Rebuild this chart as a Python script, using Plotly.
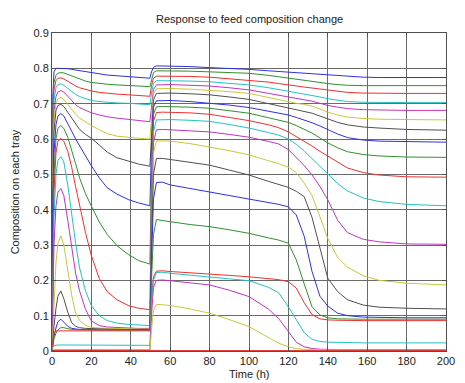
import plotly.graph_objects as go

time_h = [0, 0.4, 1, 2, 3, 4.5, 6, 8, 10, 12, 14, 17, 20, 24, 28, 33, 39, 44, 49.7,
          50.5, 51.5, 53,
          56, 60, 70, 80, 90, 100, 110, 115, 120, 124, 128, 132, 136, 140, 145, 150, 158, 166, 180, 200]

tray01 = [0.0, 0.72, 0.79, 0.80, 0.80, 0.80, 0.80, 0.799, 0.797, 0.795, 0.793, 0.79, 0.787, 0.784, 0.781, 0.779, 0.777, 0.775, 0.772,
          0.79, 0.803, 0.807,
          0.807, 0.807, 0.805, 0.802, 0.80, 0.797, 0.793, 0.791, 0.79, 0.789, 0.787, 0.785, 0.783, 0.781, 0.779, 0.777, 0.775, 0.774, 0.774, 0.774]
tray02 = [0.0, 0.68, 0.76, 0.78, 0.786, 0.788, 0.787, 0.783, 0.778, 0.773, 0.769, 0.764, 0.76, 0.757, 0.755, 0.753, 0.752, 0.75, 0.748,
          0.77, 0.788, 0.793,
          0.793, 0.793, 0.792, 0.79, 0.788, 0.786, 0.780, 0.776, 0.773, 0.770, 0.766, 0.762, 0.760, 0.757, 0.754, 0.752, 0.751, 0.751, 0.751, 0.751]
tray03 = [0.0, 0.64, 0.74, 0.765, 0.772, 0.773, 0.77, 0.763, 0.756, 0.75, 0.745, 0.74, 0.736, 0.732, 0.729, 0.727, 0.725, 0.723, 0.721,
          0.75, 0.772, 0.778,
          0.778, 0.778, 0.777, 0.775, 0.771, 0.767, 0.761, 0.757, 0.754, 0.750, 0.747, 0.744, 0.741, 0.738, 0.735, 0.732, 0.730, 0.729, 0.729, 0.729]
tray04 = [0.0, 0.60, 0.71, 0.745, 0.754, 0.756, 0.752, 0.743, 0.733, 0.726, 0.72, 0.714, 0.709, 0.706, 0.704, 0.702, 0.701, 0.699, 0.697,
          0.73, 0.757, 0.765,
          0.765, 0.765, 0.764, 0.762, 0.758, 0.753, 0.745, 0.740, 0.737, 0.733, 0.729, 0.724, 0.719, 0.714, 0.709, 0.706, 0.704, 0.703, 0.703, 0.703]
tray05 = [0.0, 0.55, 0.68, 0.72, 0.733, 0.737, 0.733, 0.72, 0.707, 0.697, 0.689, 0.681, 0.674, 0.668, 0.663, 0.659, 0.655, 0.652, 0.649,
          0.69, 0.74, 0.753,
          0.754, 0.754, 0.752, 0.750, 0.745, 0.739, 0.729, 0.724, 0.720, 0.716, 0.712, 0.707, 0.701, 0.695, 0.690, 0.686, 0.683, 0.682, 0.681, 0.681]
tray06 = [0.0, 0.50, 0.65, 0.70, 0.714, 0.718, 0.712, 0.698, 0.683, 0.67, 0.659, 0.648, 0.638, 0.626, 0.615, 0.608, 0.604, 0.602, 0.60,
          0.66, 0.728, 0.742,
          0.743, 0.743, 0.741, 0.738, 0.734, 0.729, 0.717, 0.710, 0.705, 0.701, 0.698, 0.693, 0.685, 0.676, 0.668, 0.662, 0.658, 0.656, 0.655, 0.654]
tray07 = [0.0, 0.45, 0.62, 0.68, 0.695, 0.698, 0.692, 0.676, 0.658, 0.641, 0.627, 0.613, 0.602, 0.583, 0.563, 0.547, 0.536, 0.529, 0.523,
          0.62, 0.71, 0.729,
          0.730, 0.730, 0.728, 0.725, 0.719, 0.712, 0.700, 0.694, 0.689, 0.684, 0.679, 0.673, 0.665, 0.657, 0.647, 0.640, 0.634, 0.631, 0.627, 0.625]
tray08 = [0.0, 0.38, 0.56, 0.64, 0.665, 0.672, 0.665, 0.645, 0.622, 0.60, 0.58, 0.553, 0.524, 0.49, 0.462, 0.444, 0.428, 0.419, 0.411,
          0.58, 0.69, 0.708,
          0.709, 0.709, 0.706, 0.702, 0.696, 0.689, 0.679, 0.673, 0.668, 0.661, 0.654, 0.646, 0.637, 0.627, 0.614, 0.604, 0.597, 0.594, 0.592, 0.591]
tray09 = [0.0, 0.30, 0.50, 0.60, 0.63, 0.638, 0.63, 0.605, 0.57, 0.53, 0.49, 0.445, 0.41, 0.365, 0.33, 0.298, 0.272, 0.256, 0.246,
          0.50, 0.67, 0.691,
          0.692, 0.692, 0.690, 0.687, 0.681, 0.673, 0.660, 0.654, 0.647, 0.638, 0.628, 0.617, 0.603, 0.589, 0.575, 0.564, 0.556, 0.552, 0.549, 0.548]
tray10 = [0.0, 0.25, 0.45, 0.56, 0.594, 0.602, 0.593, 0.565, 0.52, 0.465, 0.41, 0.335, 0.27, 0.205, 0.168, 0.145, 0.128, 0.121, 0.117,
          0.45, 0.65, 0.675,
          0.676, 0.676, 0.674, 0.670, 0.661, 0.652, 0.640, 0.632, 0.620, 0.607, 0.594, 0.580, 0.565, 0.551, 0.533, 0.518, 0.505, 0.498, 0.493, 0.492]
tray11 = [0.0, 0.20, 0.38, 0.50, 0.54, 0.55, 0.535, 0.47, 0.385, 0.305, 0.235, 0.17, 0.128, 0.10, 0.086, 0.079, 0.075, 0.073, 0.072,
          0.40, 0.62, 0.654,
          0.655, 0.655, 0.653, 0.650, 0.641, 0.631, 0.618, 0.611, 0.600, 0.585, 0.566, 0.545, 0.522, 0.501, 0.474, 0.453, 0.433, 0.423, 0.415, 0.411]
tray12 = [0.0, 0.15, 0.30, 0.41, 0.45, 0.46, 0.44, 0.37, 0.30, 0.22, 0.17, 0.118, 0.085, 0.072, 0.068, 0.066, 0.065, 0.064, 0.064,
          0.36, 0.59, 0.626,
          0.627, 0.626, 0.624, 0.620, 0.613, 0.605, 0.593, 0.586, 0.570, 0.548, 0.525, 0.498, 0.466, 0.428, 0.370, 0.335, 0.316, 0.309, 0.303, 0.302]
tray13 = [0.0, 0.06, 0.15, 0.25, 0.305, 0.326, 0.30, 0.23, 0.158, 0.107, 0.086, 0.072, 0.067, 0.065, 0.064, 0.063, 0.063, 0.062, 0.062,
          0.33, 0.56, 0.595,
          0.595, 0.594, 0.587, 0.578, 0.567, 0.555, 0.539, 0.530, 0.520, 0.505, 0.475, 0.440, 0.380, 0.318, 0.265, 0.237, 0.213, 0.200, 0.192, 0.187]
tray14 = [0.0, 0.03, 0.07, 0.12, 0.155, 0.17, 0.148, 0.11, 0.08, 0.07, 0.066, 0.064, 0.063, 0.062, 0.062, 0.061, 0.061, 0.061, 0.061,
          0.30, 0.50, 0.545,
          0.545, 0.542, 0.534, 0.526, 0.512, 0.498, 0.480, 0.472, 0.463, 0.452, 0.437, 0.378, 0.290, 0.206, 0.168, 0.145, 0.130, 0.124, 0.121, 0.119]
tray15 = [0.0, 0.02, 0.04, 0.065, 0.083, 0.09, 0.082, 0.07, 0.064, 0.062, 0.061, 0.061, 0.06, 0.06, 0.06, 0.06, 0.06, 0.06, 0.06,
          0.25, 0.43, 0.477,
          0.478, 0.470, 0.460, 0.451, 0.441, 0.432, 0.422, 0.415, 0.408, 0.385, 0.325, 0.225, 0.155, 0.127, 0.107, 0.100, 0.096, 0.095, 0.094, 0.094]
tray16 = [0.0, 0.02, 0.035, 0.05, 0.06, 0.066, 0.066, 0.063, 0.061, 0.06, 0.06, 0.06, 0.059, 0.059, 0.059, 0.059, 0.059, 0.059, 0.059,
          0.20, 0.33, 0.372,
          0.370, 0.366, 0.358, 0.352, 0.343, 0.333, 0.320, 0.314, 0.305, 0.258, 0.190, 0.125, 0.102, 0.094, 0.091, 0.090, 0.090, 0.090, 0.090, 0.090]
tray17 = [0.0, 0.03, 0.05, 0.057, 0.057, 0.057, 0.057, 0.057, 0.057, 0.057, 0.057, 0.057, 0.057, 0.057, 0.057, 0.057, 0.057, 0.057, 0.057,
          0.15, 0.21, 0.226,
          0.227, 0.225, 0.222, 0.219, 0.214, 0.210, 0.205, 0.202, 0.196, 0.178, 0.137, 0.103, 0.091, 0.088, 0.087, 0.086, 0.086, 0.086, 0.086, 0.086]
tray18 = [0.0, 0.01, 0.015, 0.017, 0.017, 0.017, 0.017, 0.017, 0.017, 0.017, 0.017, 0.017, 0.017, 0.016, 0.016, 0.016, 0.016, 0.016, 0.016,
          0.14, 0.20, 0.222,
          0.223, 0.220, 0.215, 0.210, 0.205, 0.199, 0.180, 0.165, 0.125, 0.088, 0.052, 0.033, 0.027, 0.025, 0.024, 0.023, 0.023, 0.023, 0.023, 0.023]
tray19 = [0.0, 0.002, 0.003, 0.003, 0.003, 0.003, 0.003, 0.003, 0.003, 0.003, 0.003, 0.003, 0.003, 0.003, 0.003, 0.003, 0.003, 0.003, 0.003,
          0.10, 0.18, 0.20,
          0.201, 0.199, 0.194, 0.187, 0.172, 0.154, 0.118, 0.092, 0.055, 0.025, 0.012, 0.007, 0.005, 0.004, 0.004, 0.004, 0.004, 0.004, 0.004, 0.004]
tray20 = [0.0, 0.002, 0.002, 0.002, 0.002, 0.002, 0.002, 0.002, 0.002, 0.002, 0.002, 0.002, 0.002, 0.002, 0.002, 0.002, 0.002, 0.002, 0.002,
          0.06, 0.115, 0.132,
          0.131, 0.129, 0.119, 0.107, 0.089, 0.069, 0.038, 0.022, 0.012, 0.007, 0.005, 0.004, 0.003, 0.003, 0.003, 0.003, 0.003, 0.003, 0.003, 0.003]
tray21 = [0.001, 0.001, 0.001, 0.001, 0.001, 0.001, 0.001, 0.001, 0.001, 0.001, 0.001, 0.001, 0.001, 0.001, 0.001, 0.001, 0.001, 0.001, 0.001,
          0.001, 0.001, 0.001,
          0.001, 0.001, 0.001, 0.001, 0.001, 0.001, 0.001, 0.001, 0.001, 0.001, 0.001, 0.001, 0.001, 0.001, 0.001, 0.001, 0.001, 0.001, 0.001, 0.001]

trays = [tray01, tray02, tray03, tray04, tray05, tray06, tray07, tray08, tray09, tray10,
         tray11, tray12, tray13, tray14, tray15, tray16, tray17, tray18, tray19, tray20, tray21]

x_ticks = [0, 20, 40, 60, 80, 100, 120, 140, 160, 180, 200]
y_ticks = [0, 0.1, 0.2, 0.3, 0.4, 0.5, 0.6, 0.7, 0.8, 0.9]
y_tick_labels = ["0", "0.1", "0.2", "0.3", "0.4", "0.5", "0.6", "0.7", "0.8", "0.9"]

cycle = ["#3030e0", "#309030", "#ee3030", "#28c0c0", "#c034c0", "#c8c83c", "#505050"]
colors = [cycle[i % 7] for i in range(20)] + ["#e02020"]

fig = go.Figure()
for vals, col in zip(trays, colors):
    fig.add_trace(go.Scatter(x=time_h, y=vals, mode="lines",
                             line=dict(color=col, width=1), showlegend=False,
                             hoverinfo="skip"))

axis_common = dict(showline=True, mirror="ticks", linecolor="#505050", linewidth=1,
                   showgrid=True, gridcolor="#6a6a6a", gridwidth=1, zeroline=False,
                   ticks="inside", ticklen=4, tickcolor="#505050",
                   tickfont=dict(family="Liberation Sans, Arial, sans-serif", size=11, color="#222222"))

fig.update_xaxes(range=[0, 200], tickvals=x_ticks, **axis_common)
fig.update_yaxes(range=[0, 0.9], tickvals=y_ticks, ticktext=y_tick_labels, **axis_common)

font = dict(family="Liberation Sans, Arial, sans-serif", size=11, color="#222222")
# The page body adds an 8 px offset, so the figure is 8 px smaller and the
# left/top margins are 8 px smaller to keep the plot area where the reference has it.
fig.update_layout(
    width=457, height=375,
    margin=dict(l=44, r=10, t=25, b=32),
    paper_bgcolor="white", plot_bgcolor="white",
    showlegend=False,
    annotations=[
        dict(text="Response to feed composition change", xref="paper", yref="paper",
             x=0.5, y=1.044, xanchor="center", yanchor="middle", showarrow=False, font=font),
        dict(text="Time (h)", xref="paper", yref="paper",
             x=0.5, y=-0.072, xanchor="center", yanchor="middle", showarrow=False, font=font),
        dict(text="Composition on each tray", xref="paper", yref="paper",
             x=-0.093, y=0.5, xanchor="center", yanchor="middle", showarrow=False,
             textangle=-90, font=font),
    ],
)

fig.write_html("out.html")
